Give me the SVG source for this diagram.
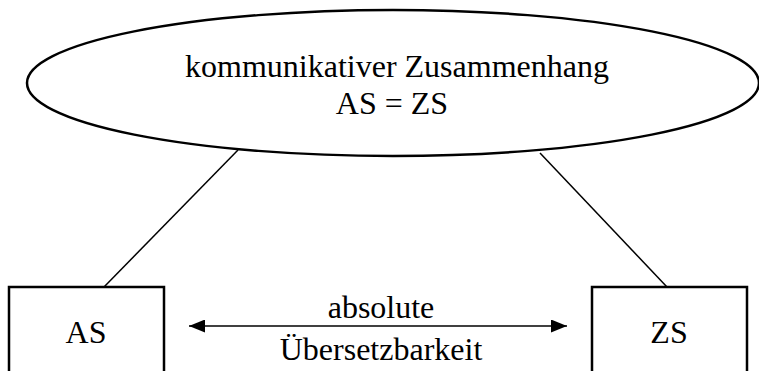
<svg xmlns="http://www.w3.org/2000/svg" width="759" height="371" viewBox="0 0 759 371">
<style>
.t{font-family:'Liberation Serif','Times New Roman',serif;font-size:32px;fill:#000;text-anchor:middle}
.s{fill:#fff;stroke:#000;stroke-width:2.5}
.c{stroke:#000;stroke-width:1.5;fill:none}
</style>
<defs>
<marker id="ah" viewBox="0 0 16 13" refX="16" refY="6.5" markerWidth="16" markerHeight="13" markerUnits="userSpaceOnUse" orient="auto-start-reverse"><path d="M0,0 L16,6.5 L0,13 z" fill="#000"/></marker>
</defs>
<g id="connectors">
<line class="c" x1="238" y1="150" x2="104" y2="287"/>
<line class="c" x1="540" y1="153" x2="667" y2="287"/>
<line class="c" x1="189" y1="326" x2="567" y2="326" marker-start="url(#ah)" marker-end="url(#ah)"/>
<text class="t" x="381" y="318">absolute</text>
<text class="t" x="381" y="360">Übersetzbarkeit</text>
</g>
<g id="context">
<ellipse class="s" cx="393" cy="83" rx="366" ry="73"/>
<text class="t" x="397" y="77">kommunikativer Zusammenhang</text>
<text class="t" x="392" y="114">AS = ZS</text>
</g>
<g id="as">
<rect class="s" x="9" y="287" width="155" height="90"/>
<text class="t" x="86" y="343">AS</text>
</g>
<g id="zs">
<rect class="s" x="592" y="287" width="155" height="90"/>
<text class="t" x="669" y="343">ZS</text>
</g>
</svg>
